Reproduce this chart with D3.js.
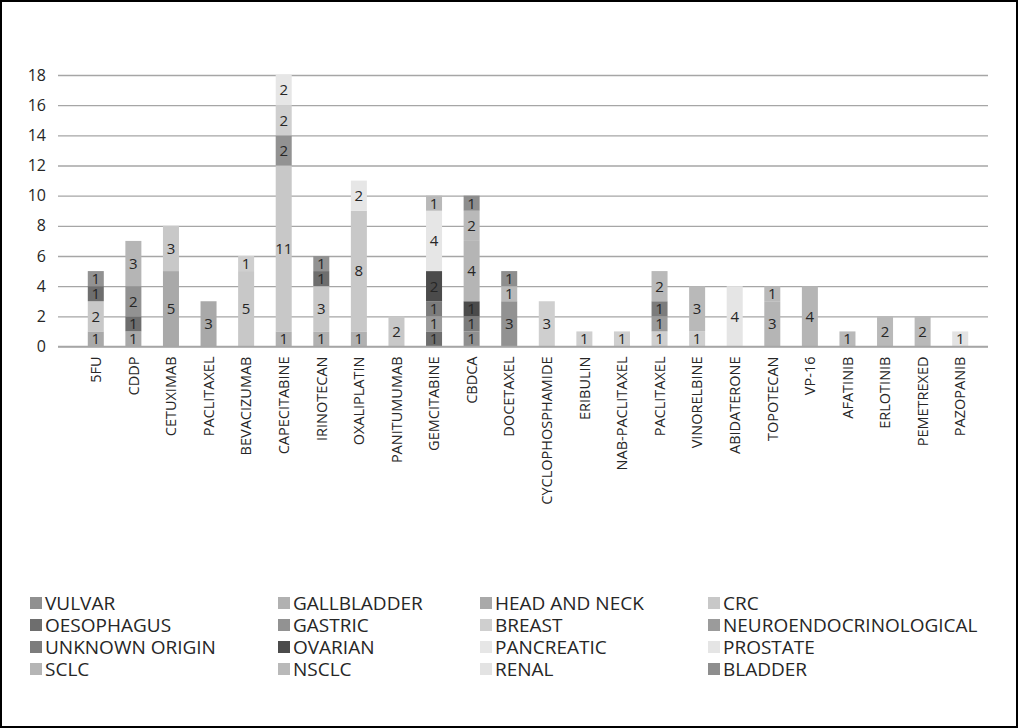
<!DOCTYPE html>
<html>
<head>
<meta charset="utf-8">
<script src="https://cdn.jsdelivr.net/npm/d3@7"></script>
<style>
  html, body { margin: 0; padding: 0; background: #fff; }
  svg { display: block; font-family: "Open Sans", "Noto Sans", sans-serif; }
</style>
</head>
<body>
<svg id="chart" width="1018" height="728"></svg>
<script>
// Drugs on the x axis (PACLITAXEL appears twice, so bands are keyed by index)
const drugs = ["5FU", "CDDP", "CETUXIMAB", "PACLITAXEL", "BEVACIZUMAB", "CAPECITABINE",
  "IRINOTECAN", "OXALIPLATIN", "PANITUMUMAB", "GEMCITABINE", "CBDCA", "DOCETAXEL",
  "CYCLOPHOSPHAMIDE", "ERIBULIN", "NAB-PACLITAXEL", "PACLITAXEL", "VINORELBINE",
  "ABIDATERONE", "TOPOTECAN", "VP-16", "AFATINIB", "ERLOTINIB", "PEMETREXED", "PAZOPANIB"];

// Tumour types, in stacking order (bottom first)
const tumours = ["VULVAR", "GALLBLADDER", "HEAD AND NECK", "CRC", "OESOPHAGUS", "GASTRIC",
  "BREAST", "NEUROENDOCRINOLOGICAL", "UNKNOWN ORIGIN", "OVARIAN", "PANCREATIC", "PROSTATE",
  "SCLC", "NSCLC", "RENAL", "BLADDER"];

const tumourColors = ["#909090", "#b1b1b1", "#a9a9a9", "#c8c8c8", "#6e6e6e", "#929292",
  "#cfcfcf", "#9b9b9b", "#7c7c7c", "#4b4b4b", "#e6e6e6", "#e5e5e5",
  "#b5b5b5", "#b9b9b9", "#e3e3e3", "#8e8e8e"];

// Patient counts per drug, one array per tumour type
//                    5FU CDDP CETX PACL BEVA CAPE IRIN OXAL PANI GEMC CBDC DOCE CYCL ERIB NABP PACL VINO ABID TOPO VP16 AFAT ERLO PEME PAZO
const vulvar        = [0,   0,   0,   0,   0,   0,   0,   0,   0,   0,   1,   0,   0,   0,   0,   0,   0,   0,   0,   0,   0,   0,   0,   0];
const gallbladder   = [0,   0,   0,   0,   0,   1,   1,   1,   0,   0,   0,   0,   0,   0,   0,   0,   0,   0,   0,   0,   0,   0,   0,   0];
const headAndNeck   = [1,   1,   5,   3,   0,   0,   0,   0,   0,   0,   0,   0,   0,   0,   0,   0,   0,   0,   0,   0,   0,   0,   0,   0];
const crc           = [2,   0,   3,   0,   5,  11,   3,   8,   2,   0,   0,   0,   0,   0,   0,   0,   0,   0,   0,   0,   0,   0,   0,   0];
const oesophagus    = [1,   1,   0,   0,   0,   0,   1,   0,   0,   1,   0,   0,   0,   0,   0,   0,   0,   0,   0,   0,   0,   0,   0,   0];
const gastric       = [1,   2,   0,   0,   0,   2,   1,   0,   0,   0,   0,   3,   0,   0,   0,   0,   0,   0,   0,   0,   0,   0,   0,   0];
const breast        = [0,   0,   0,   0,   1,   2,   0,   0,   0,   0,   0,   0,   3,   1,   1,   1,   1,   0,   0,   0,   0,   0,   0,   0];
const neuroendo     = [0,   0,   0,   0,   0,   0,   0,   0,   0,   1,   0,   0,   0,   0,   0,   1,   0,   0,   0,   0,   0,   0,   0,   0];
const unknownOrigin = [0,   0,   0,   0,   0,   0,   0,   0,   0,   1,   1,   0,   0,   0,   0,   1,   0,   0,   0,   0,   0,   0,   0,   0];
const ovarian       = [0,   0,   0,   0,   0,   0,   0,   0,   0,   2,   1,   0,   0,   0,   0,   0,   0,   0,   0,   0,   0,   0,   0,   0];
const pancreatic    = [0,   0,   0,   0,   0,   2,   0,   2,   0,   4,   0,   0,   0,   0,   0,   0,   0,   0,   0,   0,   0,   0,   0,   0];
const prostate      = [0,   0,   0,   0,   0,   0,   0,   0,   0,   0,   0,   0,   0,   0,   0,   0,   0,   4,   0,   0,   0,   0,   0,   0];
const sclc          = [0,   3,   0,   0,   0,   0,   0,   0,   0,   0,   4,   0,   0,   0,   0,   0,   0,   0,   3,   4,   0,   0,   0,   0];
const nsclc         = [0,   0,   0,   0,   0,   0,   0,   0,   0,   1,   2,   1,   0,   0,   0,   2,   3,   0,   1,   0,   1,   2,   2,   0];
const renal         = [0,   0,   0,   0,   0,   0,   0,   0,   0,   0,   0,   0,   0,   0,   0,   0,   0,   0,   0,   0,   0,   0,   0,   1];
const bladder       = [0,   0,   0,   0,   0,   0,   0,   0,   0,   0,   1,   1,   0,   0,   0,   0,   0,   0,   0,   0,   0,   0,   0,   0];

const yTicks = [0, 2, 4, 6, 8, 10, 12, 14, 16, 18];

const seriesValues = [vulvar, gallbladder, headAndNeck, crc, oesophagus, gastric, breast,
  neuroendo, unknownOrigin, ovarian, pancreatic, prostate, sclc, nsclc, renal, bladder];

// Row table for d3.stack
const rows = drugs.map((d, i) => {
  const r = { idx: i, drug: d };
  tumours.forEach((t, k) => { r[t] = seriesValues[k][i]; });
  return r;
});

const svg = d3.select("#chart");
const W = 1018, H = 728;

// Outer frame
svg.append("rect")
  .attr("x", 1).attr("y", 1).attr("width", W - 2).attr("height", H - 2)
  .attr("fill", "#fff").attr("stroke", "#000").attr("stroke-width", 2);

// Gridlines span the full plot width; the category bands sit slightly inside it
const grid = { left: 58, right: 988 };
const plot = { left: 77, right: 979, top: 75, bottom: 346.5 };

const x = d3.scaleBand()
  .domain(d3.range(drugs.length))
  .range([plot.left, plot.right])
  .paddingInner(0.574).paddingOuter(0.287);

const y = d3.scaleLinear().domain([0, 18]).range([plot.bottom, plot.top]);
const color = d3.scaleOrdinal().domain(tumours).range(tumourColors);

// Horizontal gridlines with tick values
const yAxis = d3.axisLeft(y).tickValues(yTicks)
  .tickSize(-(grid.right - grid.left)).tickPadding(12);
const gy = svg.append("g").attr("transform", `translate(${grid.left},0)`).call(yAxis);
gy.select(".domain").remove();
gy.selectAll(".tick line").attr("stroke", "#a6a6a6").attr("stroke-width", 1.3);
gy.selectAll(".tick text")
  .attr("font-size", 16).attr("fill", "#262626")
  .attr("font-family", "'Open Sans', sans-serif");

// Stacked columns
const stacked = d3.stack().keys(tumours)(rows);
const layers = svg.append("g").selectAll("g")
  .data(stacked).join("g")
  .attr("fill", d => color(d.key));

layers.selectAll("rect")
  .data(d => d.filter(s => s[1] - s[0] > 0))
  .join("rect")
  .attr("x", s => x(s.data.idx))
  .attr("width", x.bandwidth())
  .attr("y", s => y(s[1]))
  .attr("height", s => y(s[0]) - y(s[1]));

// Value labels centred in each segment
const labels = svg.append("g")
  .attr("font-size", 15).attr("fill", "#262626").attr("text-anchor", "middle");
stacked.forEach(layer => {
  layer.filter(s => s[1] - s[0] > 0).forEach(s => {
    labels.append("text")
      .attr("x", x(s.data.idx) + x.bandwidth() / 2)
      .attr("y", (y(s[0]) + y(s[1])) / 2)
      .attr("dy", "0.36em")
      .text(s[1] - s[0]);
  });
});

// Baseline
svg.append("line")
  .attr("x1", grid.left).attr("x2", grid.right)
  .attr("y1", y(0)).attr("y2", y(0))
  .attr("stroke", "#a6a6a6").attr("stroke-width", 1.3);

// Category labels, rotated
const xAxis = d3.axisBottom(x).tickSize(0).tickPadding(0).tickFormat(i => drugs[i]);
const gx = svg.append("g").attr("transform", `translate(0,${plot.bottom})`).call(xAxis);
gx.select(".domain").remove();
gx.selectAll(".tick text")
  .attr("font-size", 14.5).attr("fill", "#262626")
  .attr("font-family", "'Open Sans', sans-serif")
  .attr("text-anchor", "end")
  .attr("transform", "rotate(-90)")
  .attr("x", -10).attr("y", 0).attr("dy", "0.36em");

// Legend: four columns, row-major
const legendCols = [30, 278, 480, 708];
const legendRows = [603, 625, 647, 669];
const legend = svg.append("g").attr("font-size", 19).attr("fill", "#262626");
tumours.forEach((t, k) => {
  const cx = legendCols[k % 4], cy = legendRows[Math.floor(k / 4)];
  const g = legend.append("g").attr("transform", `translate(${cx},${cy})`);
  g.append("rect").attr("x", 0).attr("y", -6).attr("width", 12).attr("height", 12)
    .attr("fill", color(t));
  g.append("text").attr("x", 15).attr("y", 0).attr("dy", "0.36em").text(t);
});
</script>
</body>
</html>
